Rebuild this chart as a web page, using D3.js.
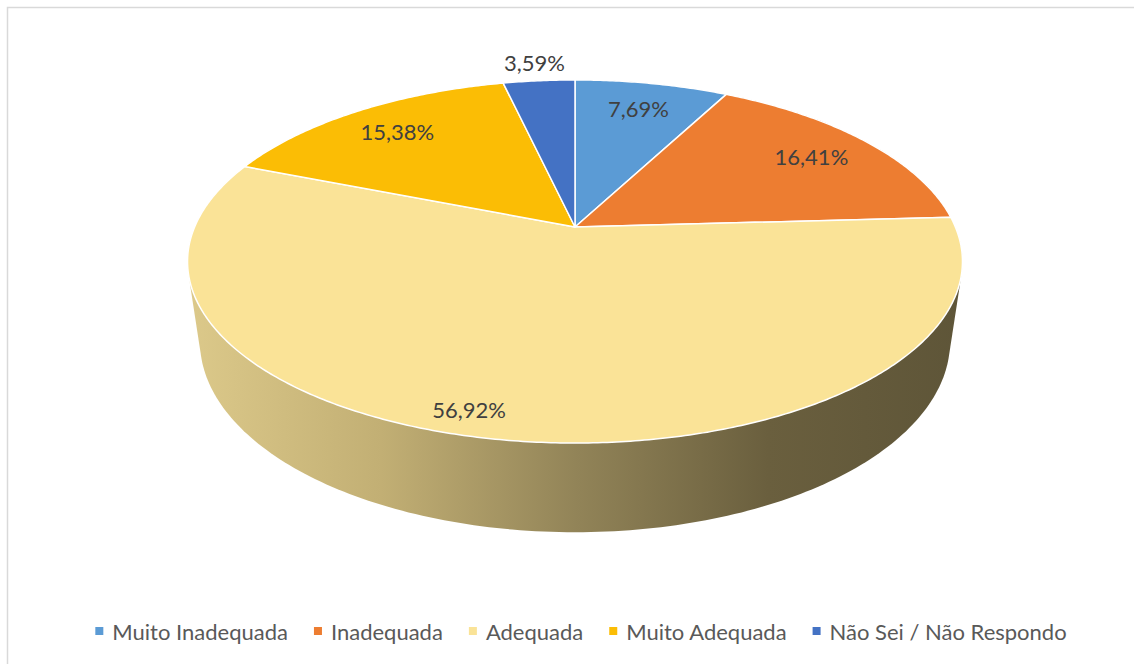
<!DOCTYPE html>
<html>
<head>
<meta charset="utf-8">
<script src="https://cdn.jsdelivr.net/npm/d3@7"></script>
<style>
  body { margin: 0; background: #fff; }
  text { font-family: Lato, "Open Sans", sans-serif; }
</style>
</head>
<body>
<div id="chart"></div>
<script>
// data
var categories = ["Muito Inadequada", "Inadequada", "Adequada", "Muito Adequada", "Não Sei / Não Respondo"];
var values = [7.69, 16.41, 56.92, 15.38, 3.59];
var colors = ["#5b9bd5", "#ed7d31", "#fae397", "#fbbd05", "#4472c4"];

var width = 1134, height = 664;

var svg = d3.select("#chart")
  .append("svg")
  .attr("width", width)
  .attr("height", height);

// chart border
svg.append("rect")
  .attr("x", 7.5).attr("y", 7.5)
  .attr("width", width + 20).attr("height", height + 20)
  .style("fill", "none")
  .style("stroke", "#d9d9d9")
  .style("stroke-width", 1.5);

// perspective settings for the 3d pie
var cx = 575, cy = 227, Sx = 380.4, Sy = 175, k = 0.19, m = 0.032, depth = 82;

// angle a clockwise from 12 o'clock, r = fraction of radius, d = 0 top / 1 bottom
function proj(a, r, d) {
  var u = r * Math.sin(a), v = -r * Math.cos(a);
  var w = 1 - k * v + m * d;
  return [cx + Sx * u / w, cy + (Sy * v + depth * d) / w];
}

var pie = d3.pie().sort(null).value(function(d) { return d; });
var arcs = pie(values);

// side gradient
var defs = svg.append("defs");
var grad = defs.append("linearGradient")
  .attr("id", "sideGrad")
  .attr("gradientUnits", "userSpaceOnUse")
  .attr("x1", 188).attr("x2", 962).attr("y1", 0).attr("y2", 0);
[["0%", "#dcc98a"], ["25%", "#c2af74"], ["50%", "#928458"], ["75%", "#6a5f3e"], ["100%", "#5e5538"]]
  .forEach(function(s) { grad.append("stop").attr("offset", s[0]).attr("stop-color", s[1]); });

// the whole solid outline = hull of top and bottom rims
var rim = [];
for (var i = 0; i < 360; i += 1) {
  var a = i * Math.PI / 180;
  rim.push(proj(a, 1, 0));
  rim.push(proj(a, 1, 1));
}
var hull = d3.polygonHull(rim);
svg.append("path")
  .attr("d", "M" + hull.join("L") + "Z")
  .style("fill", "url(#sideGrad)");

// top slices
function slicePath(d) {
  var pts = [[cx, cy]];
  var n = Math.max(2, Math.ceil((d.endAngle - d.startAngle) / 0.01));
  for (var j = 0; j <= n; j++) {
    pts.push(proj(d.startAngle + (d.endAngle - d.startAngle) * j / n, 1, 0));
  }
  return "M" + pts.join("L") + "Z";
}

svg.selectAll(".slice")
  .data(arcs)
  .enter()
  .append("path")
  .attr("class", "slice")
  .attr("d", slicePath)
  .style("fill", function(d, i) { return colors[i]; })
  .style("stroke", "#fff")
  .style("stroke-width", 1.5)
  .style("stroke-linejoin", "round");

// data labels (small slices go outside, the big one sits lower)
var fmt = function(v) { return d3.format(".2f")(v).replace(".", ",") + "%"; };
svg.selectAll(".lbl")
  .data(arcs)
  .enter()
  .append("text")
  .attr("class", "lbl")
  .attr("transform", function(d) {
    var mid = (d.startAngle + d.endAngle) / 2;
    var r = d.value < 5 ? 1.15 : (d.value > 50 ? 0.9 : 0.8);
    if (d.value > 50) mid += 0.1;
    return "translate(" + proj(mid, r, 0) + ")";
  })
  .attr("text-anchor", "middle")
  .attr("dominant-baseline", "central")
  .style("font-size", "22px")
  .style("fill", "#404040")
  .text(function(d) { return fmt(d.value); });

// legend
var legend = svg.append("g");
var items = legend.selectAll(".item")
  .data(categories)
  .enter()
  .append("g")
  .attr("class", "item");
items.append("rect")
  .attr("width", 8).attr("height", 8)
  .attr("y", -4)
  .style("fill", function(d, i) { return colors[i]; });
items.append("text")
  .attr("x", 17)
  .attr("dominant-baseline", "central")
  .style("font-size", "22px")
  .style("fill", "#595959")
  .text(function(d) { return d; });

var xpos = 0;
items.each(function() {
  var g = d3.select(this);
  g.attr("transform", "translate(" + xpos + ",0)");
  xpos += 17 + g.select("text").node().getComputedTextLength() + 26;
});
var total = xpos - 26;
legend.attr("transform", "translate(" + (581 - total / 2) + ",631)");
</script>
</body>
</html>
